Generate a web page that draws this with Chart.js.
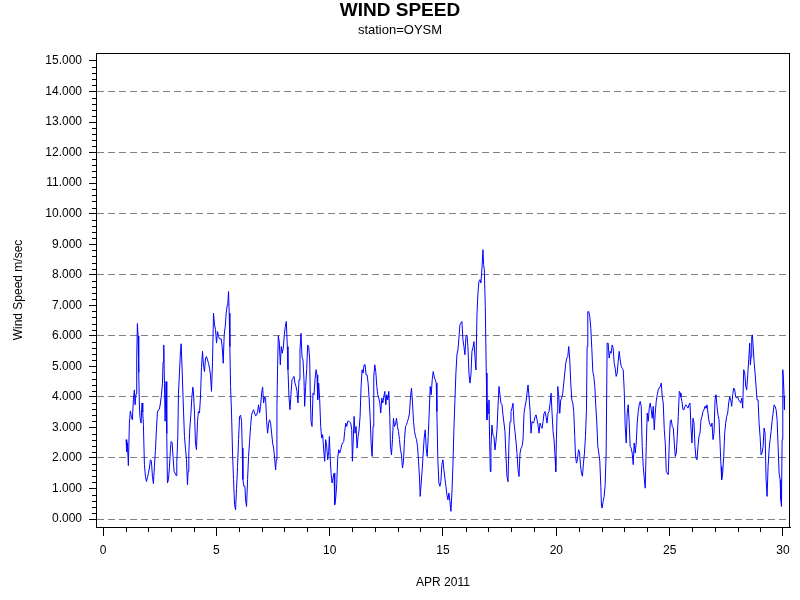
<!DOCTYPE html>
<html>
<head>
<meta charset="utf-8">
<title>WIND SPEED</title>
<script src="https://cdn.jsdelivr.net/npm/chart.js@4/dist/chart.umd.min.js"></script>
<style>
  html, body { margin: 0; padding: 0; background: #fff; }
  #chart { display: block; }
</style>
</head>
<body>
<canvas id="chart" width="800" height="600"></canvas>
<script>
'use strict';

let titleText = 'WIND SPEED';
let subtitleText = 'station=OYSM';
let xTitle = 'APR 2011';
let yTitle = 'Wind Speed m/sec';

let xTicks = [0, 5, 10, 15, 20, 25, 30];
let yTicks = [0, 1, 2, 3, 4, 5, 6, 7, 8, 9, 10, 11, 12, 13, 14, 15];

// day of month (decimal)
let days = [
  1.016, 1.046, 1.075, 1.119, 1.164, 1.208, 1.252, 1.296, 1.340, 1.385, 1.414, 1.458, 1.488, 1.517, 1.547, 1.576,
  1.606, 1.635, 1.679, 1.723, 1.753, 1.782, 1.827, 1.871, 1.915, 1.959, 2.003, 2.047, 2.092, 2.136, 2.180, 2.224,
  2.268, 2.313, 2.357, 2.401, 2.445, 2.489, 2.534, 2.578, 2.622, 2.651, 2.681, 2.710, 2.740, 2.784, 2.813, 2.843,
  2.887, 2.931, 2.975, 3.005, 3.049, 3.093, 3.137, 3.182, 3.226, 3.255, 3.300, 3.329, 3.373, 3.417, 3.447, 3.491,
  3.535, 3.594, 3.638, 3.683, 3.727, 3.756, 3.786, 3.830, 3.874, 3.918, 3.962, 3.992, 4.036, 4.080, 4.124, 4.169,
  4.213, 4.257, 4.301, 4.345, 4.390, 4.434, 4.478, 4.522, 4.566, 4.611, 4.655, 4.699, 4.743, 4.787, 4.831, 4.876,
  4.920, 4.964, 5.008, 5.052, 5.097, 5.141,
  5.170, 5.214, 5.259, 5.303, 5.347, 5.391, 5.435, 5.480, 5.509, 5.538, 5.568, 5.597, 5.627, 5.671, 5.715, 5.759,
  5.804, 5.848, 5.892, 5.936, 5.980, 6.025,
  6.069, 6.113, 6.143, 6.172, 6.216, 6.260, 6.290, 6.334, 6.378, 6.422, 6.466, 6.511, 6.555, 6.599, 6.643, 6.687,
  6.732, 6.776, 6.820, 6.864, 6.908, 6.953, 6.997, 7.041, 7.085, 7.129, 7.174, 7.218, 7.262, 7.306, 7.350, 7.394,
  7.439, 7.483, 7.527, 7.571, 7.615, 7.645, 7.674, 7.704, 7.733, 7.777, 7.822, 7.866, 7.910, 7.954, 7.998, 8.043,
  8.087, 8.131, 8.160, 8.205, 8.249, 8.293, 8.337, 8.381, 8.426, 8.470, 8.514, 8.558, 8.602, 8.647, 8.691, 8.735,
  8.779, 8.823, 8.867, 8.897, 8.941, 8.985, 9.030, 9.074, 9.118, 9.147, 9.177, 9.221, 9.265, 9.309, 9.354, 9.398,
  9.442, 9.471, 9.516, 9.560, 9.604, 9.648, 9.692, 9.736, 9.781, 9.825, 9.869, 9.913, 9.957, 9.987, 10.031, 10.061,
  10.105, 10.149, 10.193, 10.223, 10.267, 10.311, 10.355, 10.399, 10.444, 10.488, 10.532, 10.576, 10.620, 10.665,
  10.709, 10.753, 10.797, 10.841, 10.885,
  10.930, 10.974, 11.003, 11.033, 11.077, 11.121, 11.165, 11.209, 11.254, 11.298, 11.342, 11.386, 11.430, 11.475,
  11.519, 11.563, 11.607, 11.651, 11.696, 11.740, 11.784, 11.828, 11.872, 11.917, 11.946, 11.990, 12.034, 12.079,
  12.123, 12.167, 12.211, 12.255, 12.300, 12.344, 12.388, 12.432, 12.476, 12.521, 12.565, 12.609, 12.653, 12.683,
  12.727, 12.771, 12.815, 12.859, 12.904, 12.948, 12.992, 13.036, 13.080, 13.124, 13.169, 13.213, 13.257, 13.301,
  13.345, 13.390, 13.434, 13.478, 13.522, 13.566, 13.611, 13.655, 13.699, 13.743, 13.787, 13.832, 13.876, 13.920,
  13.964, 13.994, 14.038, 14.082, 14.126, 14.170, 14.215, 14.259, 14.303, 14.347, 14.391, 14.435, 14.480, 14.524,
  14.568, 14.612, 14.656, 14.701, 14.730, 14.774, 14.819, 14.863, 14.907, 14.951, 14.995, 15.040, 15.084, 15.128,
  15.172, 15.216, 15.260, 15.305, 15.349, 15.393, 15.437, 15.481, 15.526, 15.570, 15.614, 15.658, 15.702, 15.747,
  15.791, 15.835, 15.879, 15.923, 15.967, 16.012, 16.056, 16.100, 16.144, 16.188, 16.233, 16.277, 16.321, 16.365,
  16.409, 16.453, 16.498, 16.542, 16.586, 16.630, 16.674, 16.719, 16.763, 16.792, 16.822, 16.866, 16.910, 16.939,
  16.969, 16.998, 17.028, 17.057, 17.087, 17.116, 17.160, 17.205, 17.249, 17.293, 17.337, 17.381, 17.426, 17.470,
  17.514, 17.558, 17.602, 17.647, 17.691, 17.735, 17.779, 17.823, 17.867, 17.912, 17.956, 18.000, 18.044, 18.088,
  18.133, 18.177, 18.221, 18.265, 18.309, 18.354, 18.398, 18.442, 18.486, 18.530, 18.575, 18.619, 18.663, 18.707,
  18.751, 18.796, 18.840, 18.884, 18.928, 18.972, 19.016, 19.061, 19.105, 19.149, 19.193, 19.237, 19.282, 19.326,
  19.370, 19.414, 19.458, 19.503, 19.547, 19.591, 19.635, 19.679, 19.724, 19.768, 19.812, 19.856, 19.900, 19.945,
  19.974, 20.003, 20.033, 20.062, 20.107, 20.151, 20.195, 20.239, 20.283, 20.327, 20.372, 20.416, 20.460, 20.504,
  20.548,
  20.593, 20.637, 20.681, 20.725, 20.769, 20.813, 20.843, 20.887, 20.931, 20.976, 21.020, 21.064, 21.108, 21.152,
  21.197, 21.241, 21.285, 21.329, 21.359, 21.388, 21.432, 21.476, 21.521, 21.565, 21.609, 21.653, 21.697, 21.742,
  21.786, 21.830, 21.874, 21.918, 21.963, 21.992, 22.021, 22.066, 22.110, 22.154, 22.198, 22.242, 22.287, 22.331,
  22.375, 22.419, 22.463, 22.508, 22.552, 22.596, 22.640, 22.684, 22.729, 22.773, 22.817, 22.861, 22.905, 22.950,
  22.994, 23.038, 23.082, 23.126, 23.171, 23.215, 23.259, 23.303, 23.347, 23.392, 23.436, 23.480, 23.524, 23.568,
  23.613, 23.657, 23.701, 23.745, 23.789, 23.834, 23.878, 23.922, 23.966, 24.010, 24.055, 24.099, 24.143, 24.187,
  24.231, 24.275, 24.320, 24.364, 24.408, 24.452, 24.496, 24.541, 24.585, 24.629, 24.673, 24.717, 24.762, 24.806,
  24.850, 24.894, 24.938, 24.983, 25.027, 25.071, 25.115, 25.159, 25.204, 25.248, 25.292, 25.336, 25.380, 25.425,
  25.469,
  25.498, 25.542, 25.587, 25.631, 25.675, 25.719, 25.763, 25.808, 25.852, 25.896, 25.940, 25.984, 26.029, 26.073,
  26.117, 26.161, 26.205, 26.249, 26.294, 26.338, 26.382, 26.426, 26.470, 26.515, 26.559, 26.603, 26.647, 26.691,
  26.736, 26.780, 26.824, 26.868, 26.912, 26.957, 27.001, 27.045, 27.089, 27.133, 27.178, 27.222, 27.266, 27.295,
  27.339, 27.384, 27.428, 27.472, 27.516, 27.560, 27.604, 27.649, 27.693, 27.737, 27.781, 27.825, 27.870, 27.914,
  27.958, 28.002, 28.046, 28.091, 28.135, 28.179, 28.223, 28.267, 28.312, 28.356, 28.400, 28.444, 28.488, 28.533,
  28.562, 28.591, 28.621, 28.650, 28.680, 28.724, 28.768, 28.812, 28.856, 28.901, 28.945, 28.989, 29.033, 29.077,
  29.122, 29.166, 29.210, 29.254, 29.298, 29.342, 29.387, 29.431, 29.475, 29.519, 29.563, 29.608, 29.652, 29.696,
  29.740, 29.784, 29.829, 29.873, 29.902, 29.932, 29.961, 29.991, 30.020, 30.050, 30.064
];

// wind speed (m/sec), same order as days
let speed = [
  2.6, 2.2, 2.5, 1.75, 3.14, 3.54, 3.35, 3.25, 3.9, 4.23, 3.74, 4.1, 5.25, 6.4, 6.0, 4.8,
  3.7, 3.3, 3.14, 3.8, 3.5, 3.1, 1.78, 1.4, 1.23, 1.35, 1.5, 1.67, 1.94, 1.89, 1.4, 1.16,
  1.72, 2.25, 2.92, 3.5, 3.58, 3.6, 3.8, 4.07, 4.43, 5.14, 5.7, 4.45, 3.2, 4.5, 2.8, 1.18,
  1.29, 1.7, 2.27, 2.54, 2.5, 2.0, 1.56, 1.5, 1.42, 1.85, 2.7, 4.12, 4.78, 5.49, 5.74, 4.89,
  3.9, 2.7, 2.32, 1.94, 1.12, 1.56, 2.16, 2.98, 3.4, 3.96, 4.32, 4.12, 3.47, 2.49, 2.27, 3.2,
  3.52, 3.47, 4.0, 4.97, 5.49, 5.02, 4.83, 5.27, 5.32, 5.21, 5.1, 4.94, 4.72, 4.18, 5.13, 6.74,
  6.36, 6.2, 5.76, 6.14, 5.98, 5.9,
  5.9, 5.9, 5.65, 5.1, 6.03, 6.3, 6.74, 7.0, 7.1, 7.45, 6.74, 5.65, 4.34, 3.47, 2.16, 1.29,
  0.47, 0.3, 1.0, 1.72, 2.6, 3.36,
  3.4, 3.2, 2.32, 1.29, 1.07, 1.07, 0.63, 0.41, 1.29, 2.05, 2.54, 3.03, 3.4, 3.52, 3.58, 3.47,
  3.38, 3.4, 3.52, 3.74, 3.47, 3.69, 4.12, 4.32, 3.8, 4.0, 3.96, 3.2, 2.81, 3.14, 3.25, 3.14,
  2.81, 2.49, 2.32, 2.0, 1.61, 1.94, 3.69, 5.05, 6.0, 5.81, 5.05, 5.65, 5.43, 5.6, 6.03, 6.3,
  6.47, 5.65, 4.89, 4.0, 3.58, 4.07, 4.56, 4.61, 4.67, 4.45, 4.34, 4.18, 3.8, 4.56, 5.54, 6.08,
  5.32, 5.21, 4.56, 3.69, 4.34, 4.89, 5.7, 5.65, 5.21, 4.0, 3.2, 3.03, 4.12, 4.07, 4.56, 4.89,
  4.72, 3.9, 4.45, 3.9, 3.03, 2.65, 2.76, 2.27, 1.89, 2.6, 2.38, 1.94, 2.21, 2.7, 1.89, 1.5,
  1.18, 1.34, 1.5, 0.47, 0.69, 1.12, 2.0, 2.27, 2.16, 2.27, 2.43, 2.49, 2.54, 2.87,
  3.14, 3.03, 3.2, 3.2, 3.18,
  3.14, 2.92, 1.89, 2.43, 3.36, 2.81, 3.03, 2.32, 2.7, 2.92, 3.36, 4.34, 4.89, 4.78,
  5.05, 5.05, 4.72, 4.72, 4.45, 3.96, 3.36, 2.49, 2.05, 3.03, 4.67, 5.05, 4.83, 4.34,
  4.07, 3.96, 3.8, 3.47, 3.96, 3.8, 4.0, 4.18, 3.74, 4.07, 3.9, 4.18, 3.36, 2.38,
  2.1, 2.6, 3.3, 3.03, 3.09, 3.3, 3.03, 2.87, 2.6, 2.27, 2.1, 1.67, 1.89, 2.6,
  3.03, 3.09, 3.2, 3.3, 3.47, 4.0, 4.29, 3.8, 3.2, 2.87, 2.7, 2.6, 2.38, 1.89,
  1.34, 0.74, 1.18, 1.61, 2.16, 2.65, 2.92, 2.32, 2.05, 2.7, 3.47, 4.34, 4.07, 4.56,
  4.83, 4.67, 4.56, 4.45, 3.52, 1.89, 1.18, 1.07, 1.23, 1.78, 1.94, 1.61, 1.34, 1.07,
  0.8, 0.63, 0.85, 0.58, 0.25, 0.85, 1.72, 2.92, 3.9, 4.78, 5.38, 5.54, 5.92, 6.36,
  6.42, 6.47, 5.87, 5.65, 5.38, 5.98, 6.03, 5.65, 4.78, 4.45, 4.72, 5.49, 5.6, 5.81,
  5.32, 4.88, 6.69, 7.4, 7.78, 7.84, 7.73, 8.22, 8.82, 8.33, 8.16, 6.96, 4.78, 3.25,
  3.79, 3.46, 3.9, 2.59, 1.55, 2.37, 3.08, 2.75, 2.7, 2.26, 2.54, 2.92, 3.68, 4.34,
  4.07, 3.79, 3.74, 3.41, 3.14, 2.86, 2.04, 1.39, 1.22, 2.54, 3.19, 3.52, 3.63, 3.79,
  3.14, 2.86, 2.54, 2.15, 1.61, 1.39, 2.15, 2.32, 2.37, 2.59, 3.46, 3.68, 3.85, 4.12,
  4.39, 4.01, 3.57, 2.81, 3.19, 3.14, 3.19, 3.35, 3.41, 3.25, 3.08, 2.81, 3.14, 3.03,
  2.97, 3.19, 3.46, 3.52, 3.35, 3.14, 3.46, 3.52, 3.79, 4.12, 3.46, 2.86, 2.59, 2.04,
  1.55, 2.59, 3.46, 4.34, 4.01, 3.46, 3.9, 3.96, 4.12, 4.45, 4.78, 5.1, 5.27, 5.32,
  5.65,
  5.2, 4.45, 3.9, 3.8, 3.52, 2.7, 2.1, 1.83, 1.94, 2.27, 2.21, 1.78, 1.5, 1.4,
  1.83, 2.16, 2.7, 3.58, 5.65, 6.79, 6.79, 6.63, 6.25, 5.59, 4.83, 4.67, 4.34, 3.69,
  3.14, 2.38, 2.16, 1.89, 1.07, 0.41, 0.36, 0.58, 0.74, 1.12, 2.16, 5.76, 5.76, 5.27,
  5.49, 5.43, 5.7, 5.59, 5.1, 4.94, 4.67, 4.78, 5.16, 5.49, 5.21, 5.0, 4.94, 4.89,
  4.23, 3.03, 2.49, 3.47, 3.74, 3.14, 2.38, 2.32, 2.16, 1.78, 2.49, 2.16, 2.49, 3.14,
  3.52, 3.74, 3.85, 3.69, 2.38, 1.72, 1.34, 1.01, 2.38, 3.47, 3.2, 3.63, 3.8, 3.58,
  3.3, 3.69, 2.92, 3.47, 3.85, 4.07, 4.23, 4.29, 4.34, 4.45, 4.0, 3.8, 2.92, 2.49,
  1.56, 1.5, 1.45, 2.49, 3.2, 3.25, 3.03, 2.98, 2.49, 2.05, 2.16, 2.7, 3.36, 4.18,
  4.12,
  4.0, 3.85, 3.58, 3.58, 3.69, 3.74, 3.69, 3.63, 3.74, 3.8, 2.98, 2.49, 3.3, 3.14,
  2.38, 2.0, 1.94, 2.38, 2.7, 2.81, 3.25, 3.36, 3.52, 3.58, 3.69, 3.63, 3.74, 3.47,
  3.2, 3.09, 3.03, 3.14, 2.6, 2.81, 3.9, 4.07, 3.69, 3.41, 3.25, 2.49, 1.72, 1.29,
  1.5, 2.05, 2.81, 3.14, 3.36, 3.47, 3.8, 4.0, 3.9, 3.69, 4.07, 4.29, 4.23, 4.0,
  3.96, 4.0, 3.9, 3.85, 3.8, 3.96, 3.63, 4.89, 4.78, 4.34, 4.23, 4.72, 5.21, 5.76,
  5.05, 5.32, 5.98, 6.03, 5.7, 5.16, 4.78, 4.34, 3.9, 3.9, 3.14, 2.7, 2.1, 2.16,
  2.38, 2.98, 2.81, 1.29, 0.74, 1.72, 2.27, 2.6, 2.87, 3.2, 3.47, 3.74, 3.69, 3.58,
  3.25, 2.38, 1.5, 1.29, 0.63, 0.41, 2.6, 4.89, 4.56, 4.0, 3.58
];

let points = [];
for (let i = 0; i < days.length; i++) {
  points.push({ x: days[i], y: speed[i] });
}

let fontFamily = "'Liberation Sans', Arial, sans-serif";

// titles, frame box and the small minor ticks
let decorPlugin = {
  id: 'decor',
  afterDraw(chart) {
    let ctx = chart.ctx;
    let area = chart.chartArea;
    let xs = chart.scales.x;
    let ys = chart.scales.y;

    ctx.save();
    ctx.fillStyle = '#000';
    ctx.textAlign = 'center';
    ctx.textBaseline = 'middle';
    ctx.font = 'bold 19px ' + fontFamily;
    ctx.fillText(titleText, 400, 11);
    ctx.font = '13px ' + fontFamily;
    ctx.fillText(subtitleText, 400, 30);

    ctx.strokeStyle = '#000';
    ctx.lineWidth = 1;
    ctx.strokeRect(Math.round(area.left) + 0.5, Math.round(area.top) + 0.5,
      Math.round(area.right - area.left) - 1, Math.round(area.bottom - area.top));

    ctx.beginPath();
    for (let v = 0; v <= 15.001; v += 0.2) {
      if (Math.abs(v - Math.round(v)) < 0.01) continue;
      let py = Math.round(ys.getPixelForValue(v)) + 0.5;
      ctx.moveTo(area.left - 4, py);
      ctx.lineTo(area.left, py);
    }
    for (let d = 1; d < 30; d++) {
      if (d % 5 === 0) continue;
      let px = Math.round(xs.getPixelForValue(d)) + 0.5;
      ctx.moveTo(px, area.bottom);
      ctx.lineTo(px, area.bottom + 5);
    }
    ctx.stroke();
    ctx.restore();
  }
};

let ctx = document.getElementById('chart').getContext('2d');

let myChart = new Chart(ctx, {
  type: 'line',
  data: {
    datasets: [{
      label: 'Wind Speed',
      data: points,
      borderColor: '#0000ff',
      borderWidth: 1,
      pointRadius: 0,
      tension: 0,
      fill: false
    }]
  },
  options: {
    responsive: false,
    animation: false,
    devicePixelRatio: 1,
    layout: { padding: { top: 53, right: 10, bottom: 0, left: 0 } },
    plugins: {
      legend: { display: false },
      tooltip: { enabled: false }
    },
    scales: {
      x: {
        type: 'linear',
        min: -0.309,
        max: 30.309,
        afterBuildTicks: (s) => { s.ticks = xTicks.map(v => ({ value: v })); },
        afterFit: (s) => { s.height = 73; },
        grid: {
          drawOnChartArea: false,
          tickLength: 9,
          tickColor: '#000',
          tickBorderDash: []
        },
        border: { color: '#000', width: 1 },
        ticks: {
          color: '#000',
          padding: 7,
          maxRotation: 0,
          font: { family: fontFamily, size: 12 },
          callback: (v) => String(v)
        },
        title: {
          display: true,
          text: xTitle,
          color: '#000',
          font: { family: fontFamily, size: 12 },
          padding: { top: 0, bottom: 10 }
        }
      },
      y: {
        type: 'linear',
        min: -0.262,
        max: 15.262,
        afterBuildTicks: (s) => { s.ticks = yTicks.map(v => ({ value: v })); },
        afterFit: (s) => { s.width = 96; },
        grid: {
          color: (c) => (c.tick && c.tick.value % 2 === 0) ? '#808080' : 'rgba(0,0,0,0)',
          lineWidth: 1,
          tickLength: 7,
          tickColor: '#000',
          tickBorderDash: []
        },
        border: { color: '#000', width: 1, dash: [7, 4] },
        ticks: {
          color: '#000',
          padding: 7,
          font: { family: fontFamily, size: 12 },
          callback: (v) => Number(v).toFixed(3)
        },
        title: {
          display: true,
          text: yTitle,
          color: '#000',
          font: { family: fontFamily, size: 12 },
          padding: { top: 11, bottom: 0 }
        }
      }
    }
  },
  plugins: [decorPlugin]
});
</script>
</body>
</html>
